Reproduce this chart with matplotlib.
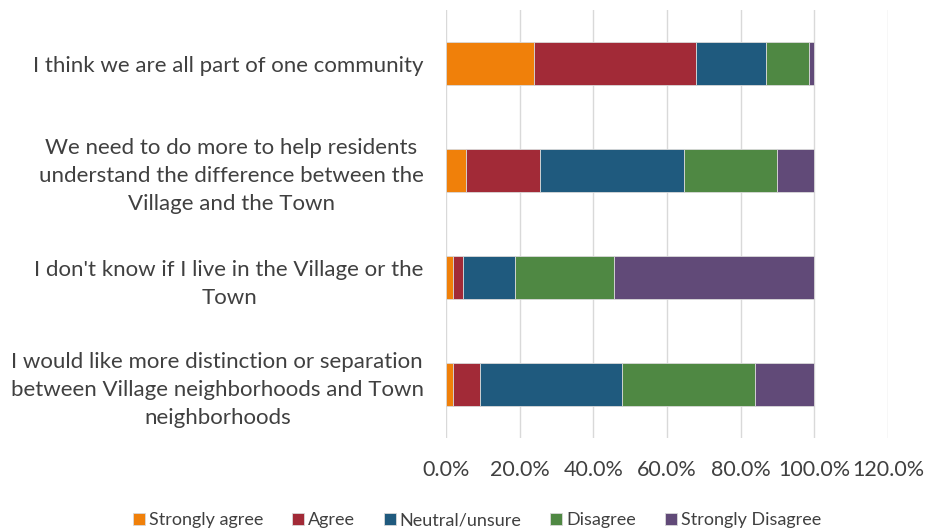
import matplotlib
matplotlib.use("Agg")
import matplotlib.pyplot as plt
import numpy as np

categories = [
    "I think we are all part of one community",
    "We need to do more to help residents\nunderstand the difference between the\nVillage and the Town",
    "I don't know if I live in the Village or the\nTown",
    "I would like more distinction or separation\nbetween Village neighborhoods and Town\nneighborhoods",
]
series_names = ["Strongly agree", "Agree", "Neutral/unsure", "Disagree", "Strongly Disagree"]
strongly_agree = [24.0, 5.3, 1.8, 1.8]
agree = [43.8, 20.1, 2.9, 7.4]
neutral = [19.0, 39.2, 14.1, 38.6]
disagree = [11.7, 25.3, 26.8, 36.2]
strongly_disagree = [1.5, 10.1, 54.4, 16.0]
xticks = [0, 20, 40, 60, 80, 100, 120]
colors = ["#F0800A", "#A22A37", "#1F5A7E", "#4F8843", "#614A78"]

plt.rcParams['font.family'] = ['Lato', 'DejaVu Sans']
fig = plt.figure(figsize=(9.27, 5.32), dpi=100)
ax = fig.add_axes([446 / 927, 1 - 438 / 532, (888 - 446) / 927, 428 / 532])

y = np.arange(len(categories))
left = np.zeros(len(categories))
for name, vals, c in zip(series_names,
                         [strongly_agree, agree, neutral, disagree, strongly_disagree],
                         colors):
    ax.barh(y, vals, left=left, height=0.4, color=c, label=name,
            edgecolor="#d9d9d9", linewidth=0.6, zorder=3)
    left += np.array(vals)

ax.set_ylim(len(categories) - 0.5, -0.5)
ax.set_xlim(0, 120)
ax.set_xticks(xticks)
ax.set_xticklabels([f"{v:.1f}%" for v in xticks], fontsize=15.5, color="#404040")
ax.set_yticks(y)
ax.set_yticklabels(categories, fontsize=16, color="#404040", ha="right", linespacing=1.5)
for lab in ax.get_yticklabels():
    lab.set_multialignment("center")
ax.tick_params(axis="both", length=0)
ax.tick_params(axis="y", pad=16)
ax.tick_params(axis="x", pad=16)
ax.grid(axis="x", color="#d9d9d9", linewidth=1, zorder=0)
for s in ax.spines.values():
    s.set_visible(False)

handles, labels = ax.get_legend_handles_labels()
leg = fig.legend(handles, labels, loc="center", bbox_to_anchor=(477 / 927, 1 - 520 / 532),
                 ncol=5, frameon=False, fontsize=13, handlelength=0.65, handleheight=0.65,
                 handletextpad=0.23, columnspacing=1.6, labelcolor="#404040")

fig.savefig("out.png", dpi=100)
